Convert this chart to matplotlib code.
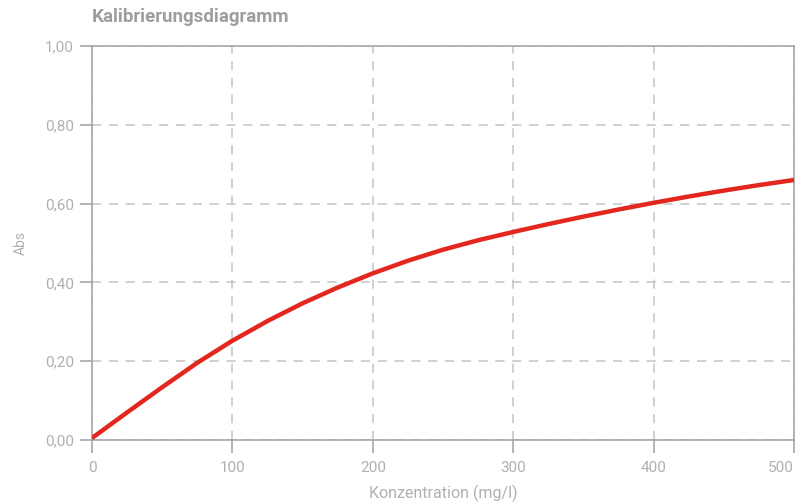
import matplotlib
matplotlib.use("Agg")
import matplotlib.pyplot as plt
from matplotlib.ticker import FuncFormatter

conc = [0, 25, 50, 75, 100, 125, 150, 175, 200, 225, 250, 275, 300, 325, 350, 375, 400, 425, 450, 475, 500]
absorb = [0.005, 0.070, 0.134, 0.196, 0.252, 0.302, 0.347, 0.387, 0.423, 0.455, 0.483, 0.507, 0.528,
          0.548, 0.567, 0.585, 0.602, 0.618, 0.633, 0.647, 0.660]
x_ticks = [0, 100, 200, 300, 400, 500]
y_ticks = [0.0, 0.2, 0.4, 0.6, 0.8, 1.0]

plt.rcParams['font.family'] = ['Roboto', 'DejaVu Sans']
fig = plt.figure(figsize=(7.96, 5.03), dpi=100)
ax = fig.add_axes([92/796, 1-440/503, 702/796, 394/503])

ax.plot(conc, absorb, color='#e3271f', lw=3.2, solid_capstyle='butt', solid_joinstyle='round', zorder=3)
ax.set_xlim(0, 500)
ax.set_ylim(0, 1)
ax.set_xticks(x_ticks)
ax.set_yticks(y_ticks)
ax.yaxis.set_major_formatter(FuncFormatter(lambda v, p: f"{v:.2f}".replace('.', ',')))
ax.grid(True, color='#c4c4c4', linestyle=(0, (6, 5)), lw=1.1)
for s in ax.spines.values():
    s.set_color('#a0a0a0')
    s.set_linewidth(1.1)
ax.tick_params(colors='#a0a0a0', labelcolor='#b0b0b0', labelsize=11, length=9, width=1.1, pad=4)
ax.tick_params(axis='x', pad=6)
xl = ax.get_xticklabels()
xl[-1].set_horizontalalignment('right')
ax.set_xlabel('Konzentration (mg/l)', color='#b0b0b0', fontsize=11.5, labelpad=7)
ax.set_ylabel('Abs', color='#b0b0b0', fontsize=10, labelpad=12)
fig.text(92/796, 1-17/503, 'Kalibrierungsdiagramm', color='#9e9e9e', fontsize=13.5,
         fontweight='bold', ha='left', va='center')
fig.savefig('out.png', dpi=100)
